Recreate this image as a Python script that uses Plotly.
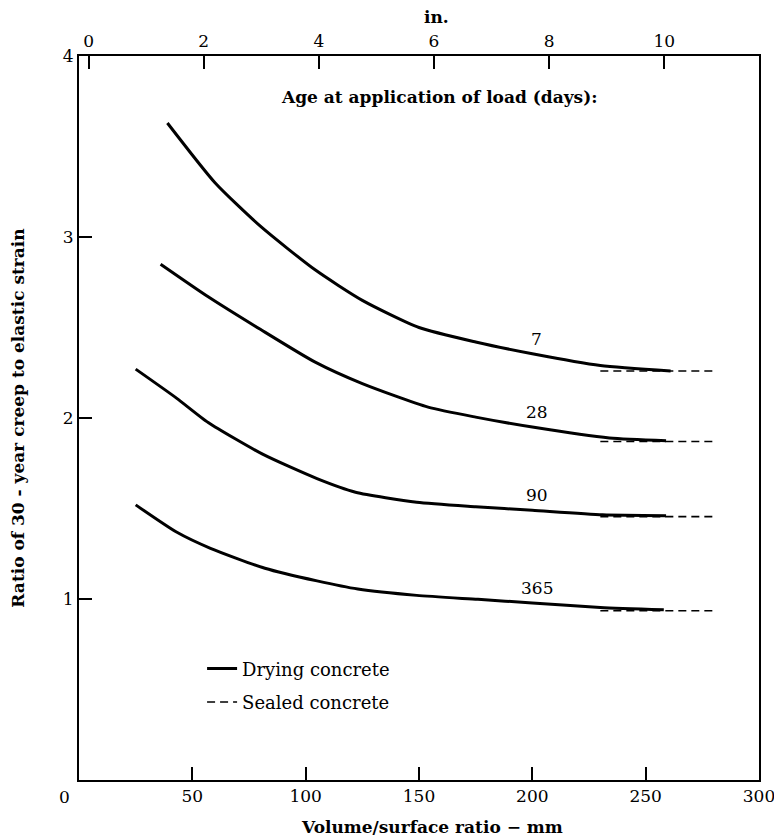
import plotly.graph_objects as go

# drying concrete curves (x: volume/surface ratio in mm)
x_7 = [39, 60, 80, 104, 125, 150, 175, 200, 230, 261]
y_7 = [3.63, 3.30, 3.06, 2.82, 2.65, 2.50, 2.42, 2.355, 2.29, 2.26]

x_28 = [36, 57, 80, 104, 125, 154, 175, 200, 234, 259]
y_28 = [2.85, 2.67, 2.49, 2.31, 2.19, 2.06, 2.005, 1.95, 1.89, 1.875]

x_90 = [25, 43, 57, 81, 105, 122, 149, 175, 200, 231, 259]
y_90 = [2.27, 2.11, 1.975, 1.80, 1.665, 1.59, 1.535, 1.51, 1.49, 1.465, 1.46]

x_365 = [25, 43, 58, 82, 105, 123, 149, 176, 200, 230, 258]
y_365 = [1.52, 1.37, 1.28, 1.17, 1.10, 1.055, 1.02, 0.998, 0.978, 0.953, 0.94]

ages = ['7', '28', '90', '365']
drying_x = [x_7, x_28, x_90, x_365]
drying_y = [y_7, y_28, y_90, y_365]

# sealed concrete (dashed) segments
sealed_x = [230, 280]
sealed_y = [2.26, 1.87, 1.455, 0.935]

x_ticks_mm = [0, 50, 100, 150, 200, 250, 300]
x_ticks_in = [0, 2, 4, 6, 8, 10]
y_ticks = [1, 2, 3, 4]

FONT = 'DejaVu Serif, serif'

fig = go.Figure()

for i, age in enumerate(ages):
    fig.add_trace(go.Scatter(
        x=drying_x[i], y=drying_y[i], mode='lines',
        line=dict(color='black', width=3, shape='spline', smoothing=0.6),
        name='Drying concrete', legendgroup='dry', showlegend=(i == 0),
        hoverinfo='skip'))

for i, age in enumerate(ages):
    fig.add_trace(go.Scatter(
        x=sealed_x, y=[sealed_y[i]] * len(sealed_x), mode='lines',
        line=dict(color='black', width=1.6, dash='8px,5px'),
        name='Sealed concrete', legendgroup='sealed', showlegend=(i == 0),
        hoverinfo='skip'))

# invisible trace so the inch axis on top gets drawn
fig.add_trace(go.Scatter(x=[0], y=[0], xaxis='x2', mode='markers',
                         marker=dict(opacity=0), showlegend=False,
                         hoverinfo='skip'))

# age labels sitting just above each curve at 200 mm
for i, age in enumerate(ages):
    xi = drying_x[i].index(200)
    fig.add_annotation(x=202, y=drying_y[i][xi], text=age, showarrow=False,
                       yshift=15, font=dict(size=17, family=FONT, color='black'))

fig.add_annotation(x=0.53, y=0.9434, xref='paper', yref='paper',
                   xanchor='center', yanchor='middle',
                   text='<b>Age at application of load (days):</b>',
                   showarrow=False, font=dict(size=17, family=FONT, color='black'))

# axis titles placed by hand (they sit a bit right of centre in the original)
fig.add_annotation(x=0.519, y=-0.065, xref='paper', yref='paper',
                   xanchor='center', yanchor='middle',
                   text='<b>Volume/surface ratio − mm</b>',
                   showarrow=False, font=dict(size=17, family=FONT, color='black'))
fig.add_annotation(x=0.526, y=1.054, xref='paper', yref='paper',
                   xanchor='center', yanchor='middle', text='<b>in.</b>',
                   borderpad=0,
                   showarrow=False, font=dict(size=17, family=FONT, color='black'))

# corner zero of the mm axis sits left of the frame corner
fig.add_annotation(x=-0.0206, y=0, xref='paper', yref='paper', text='0',
                   xanchor='center', yanchor='middle',
                   showarrow=False, yshift=-17,
                   font=dict(size=17, family=FONT, color='black'))

axis_common = dict(showgrid=False, zeroline=False, showline=True,
                   linecolor='black', linewidth=2, ticks='inside',
                   ticklen=13, tickwidth=1.5, tickcolor='black',
                   automargin=False,
                   tickfont=dict(size=17, family=FONT, color='black'))

# inch scale on top is offset slightly in the printed original
in_start = -0.166
in_end = in_start + 300 / 25.4

# page has an 8px body margin, so the figure is sized to fit 782x840
fig.update_layout(
    width=774, height=832,
    margin=dict(l=71, r=23, t=48, b=60),
    paper_bgcolor='white', plot_bgcolor='white',
    font=dict(family=FONT, color='black'),
    xaxis=dict(range=[0, 300], tickvals=x_ticks_mm,
               ticktext=[''] + [str(v) for v in x_ticks_mm[1:]],
               mirror=True, **axis_common),
    xaxis2=dict(range=[in_start, in_end], overlaying='x', side='top',
                anchor='y', tickvals=x_ticks_in, **axis_common),
    yaxis=dict(range=[0, 4], tickvals=y_ticks, mirror=True,
               title=dict(text='<b>Ratio of 30 - year creep to elastic strain</b>',
                          font=dict(size=17, family=FONT), standoff=34),
               **axis_common),
    legend=dict(x=0.181, y=0.179, xanchor='left', yanchor='top',
                bgcolor='rgba(0,0,0,0)', traceorder='grouped',
                tracegroupgap=7,
                font=dict(size=18, family=FONT, color='black')),
)

fig.write_html('out.html')
